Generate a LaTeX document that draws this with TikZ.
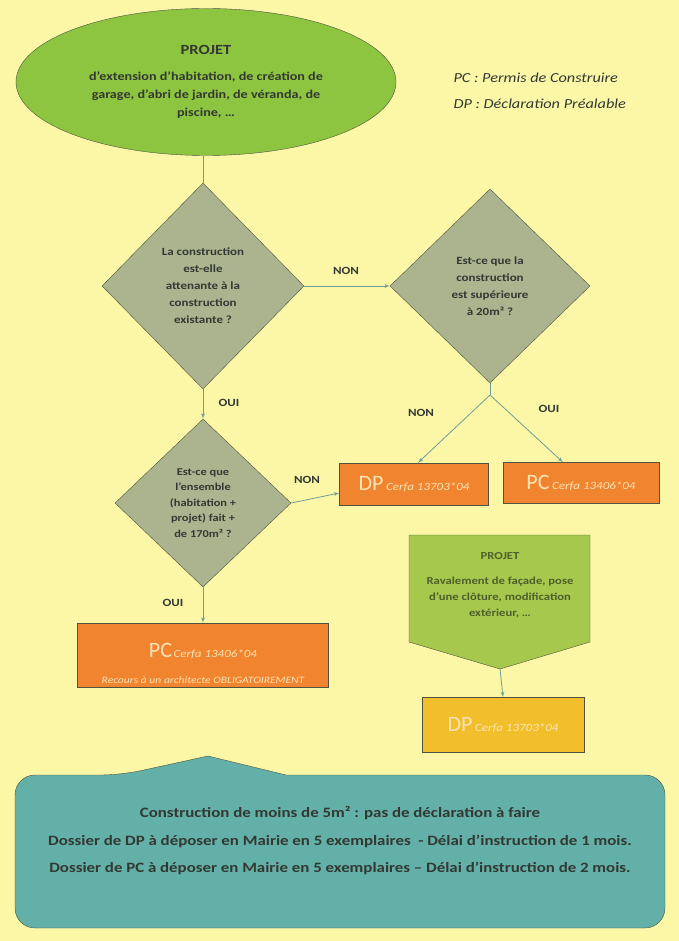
\documentclass[tikz,border=0pt]{standalone}
\usepackage{fontspec}
\setmainfont{Carlito}[FakeStretch=1.18]
\newfontfamily\tagfont{Carlito}
\usepackage{xcolor}
\usepackage{tikz}
\usetikzlibrary{positioning, arrows, shapes}
\definecolor{paleyellow}{HTML}{FBF7A6}
\definecolor{leafgreen}{HTML}{8DC540}
\definecolor{sagegrey}{HTML}{ABB48E}
\definecolor{darkedge}{HTML}{4D5340}
\definecolor{linkteal}{HTML}{6E9E97}
\definecolor{cerfaorange}{HTML}{F1842E}
\definecolor{cream}{HTML}{FBE3B5}
\definecolor{olivegreen}{HTML}{A6C84C}
\definecolor{projetgreen}{HTML}{4F5F2C}
\definecolor{dpyellow}{HTML}{F2BF2C}
\definecolor{notesteal}{HTML}{62B0A8}
\definecolor{inkgrey}{HTML}{333833}
\tikzstyle{line} = [draw=linkteal, line width=0.8pt, -latex']
\tikzstyle{question} = [diamond, draw=darkedge, fill=sagegrey, inner sep=0pt,
    aspect=1, align=center, text=inkgrey, font=\fontsize{11}{17}\selectfont\bfseries]
\tikzstyle{cerfa} = [rectangle, draw=darkedge, fill=cerfaorange, text=cream,
    inner sep=0pt, align=center]
\tikzstyle{answer} = [font=\fontsize{11}{13}\selectfont\bfseries, text=inkgrey]
\newcommand{\cerfano}[1]{{\fontsize{11}{13}\selectfont\itshape Cerfa #1}}
\newcommand{\bigtag}[1]{{\tagfont\fontsize{22}{24}\selectfont #1}}

\begin{document}
\begin{tikzpicture}[x=1pt, y=-1pt]
      \fill[paleyellow] (0,0) rectangle (679,941);
      \useasboundingbox (0,0) rectangle (679,941);

      % Place nodes
      \node [ellipse, draw=darkedge, fill=leafgreen, minimum width=380pt, minimum height=147pt,
        align=center, text=inkgrey, font=\fontsize{12}{18}\selectfont\bfseries] (projet) at (206,82)
        {{\fontsize{14}{18}\selectfont PROJET}\\[8pt]d’extension d’habitation, de création de\\garage, d’abri de jardin, de véranda, de\\piscine, …};
      \node [anchor=west, text=inkgrey, font=\fontsize{13.8}{15}\selectfont\itshape] (pcnote) at (450,78) {PC : Permis de Construire};
      \node [anchor=west, text=inkgrey, font=\fontsize{13.8}{15}\selectfont\itshape] (dpnote) at (450,104) {DP : Déclaration Préalable};

      \node [question, minimum width=202pt, minimum height=206pt] (attenante) at (203,286)
        {La construction\\est-elle\\attenante à la\\construction\\existante ?};
      \draw [linkteal, line width=0.8pt] (attenante.north |- projet.south) -- (attenante.north);

      \node [question, minimum width=200pt, minimum height=194pt] (surface) at (490,286)
        {Est-ce que la\\construction\\est supérieure\\à 20m² ?};
      \path [line] (attenante.east) -- (surface.west);
      \node [answer] (nonsurface) at (346,271) {NON};

      \node [question, minimum width=176pt, minimum height=168pt,
        font=\fontsize{10.5}{15.5}\selectfont\bfseries] (ensemble) at (203,503)
        {Est-ce que\\l’ensemble\\(habitation +\\projet) fait +\\de 170m² ?};
      \path [line] (attenante.south) -- (ensemble.north);
      \node [answer] (ouiattenante) at (229,403) {OUI};

      \node [cerfa, minimum width=149pt, minimum height=42pt] (dp) at (414,484) {\bigtag{DP}\ \cerfano{13703*04}};
      \node [cerfa, minimum width=156pt, minimum height=41pt] (pc) at (581,483) {\bigtag{PC}\ \cerfano{13406*04}};
      \coordinate (split) at (490,395);
      \draw [linkteal, line width=0.8pt] (surface.south) -- (split);
      \path [line] (split) -- ([xshift=4pt]dp.north);
      \path [line] (split) -- ([xshift=-18pt]pc.north);
      \node [answer] (nondp) at (421,413) {NON};
      \node [answer] (ouipc) at (549,409) {OUI};

      \path [line] (ensemble.east) -- ([yshift=-9pt]dp.west);
      \node [answer] (nonensemble) at (307,480) {NON};

      \node [cerfa, minimum width=251pt, minimum height=64pt] (architecte) at (203,655)
        {\rule{0pt}{32pt}\bigtag{PC}\,\cerfano{13406*04}\\[14pt]{\fontsize{9.8}{11}\selectfont\itshape Recours à un architecte OBLIGATOIREMENT}};
      \path [line] (ensemble.south) -- (architecte.north);
      \node [answer] (ouiensemble) at (173,603) {OUI};

      % second project
      \draw [darkedge, fill=olivegreen] (409,535) -- (590,535) -- (590,642) -- (500,669) -- (409,642) -- cycle;
      \coordinate (travauxtip) at (500,669);
      \node [align=center, text=projetgreen, font=\fontsize{10.7}{16}\selectfont\bfseries] (travaux) at (500,585)
        {PROJET\\[9pt]Ravalement de façade, pose\\d’une clôture, modification\\extérieur, …};
      \node [cerfa, fill=dpyellow, minimum width=162pt, minimum height=55pt] (dptravaux) at (503,725)
        {\bigtag{DP}\ \cerfano{13703*04}};
      \path [line] (travauxtip) -- (dptravaux.north);

      % notes
      \draw [darkedge, fill=notesteal] (15,850) [rounded corners=20pt] |- (121,775) [sharp corners]
        -- (208,756) -- (286,775) [rounded corners=20pt] -| (665,850) |- (15,928) -- cycle;
      \node [align=center, text=inkgrey, font=\fontsize{14.3}{27.5}\selectfont\bfseries] (notes) at (340,841)
        {Construction de moins de 5m² : pas de déclaration à faire\\
         Dossier de DP à déposer en Mairie en 5 exemplaires~ - Délai d’instruction de 1 mois.\\
         Dossier de PC à déposer en Mairie en 5 exemplaires – Délai d’instruction de 2 mois.};
\end{tikzpicture}
\end{document}
